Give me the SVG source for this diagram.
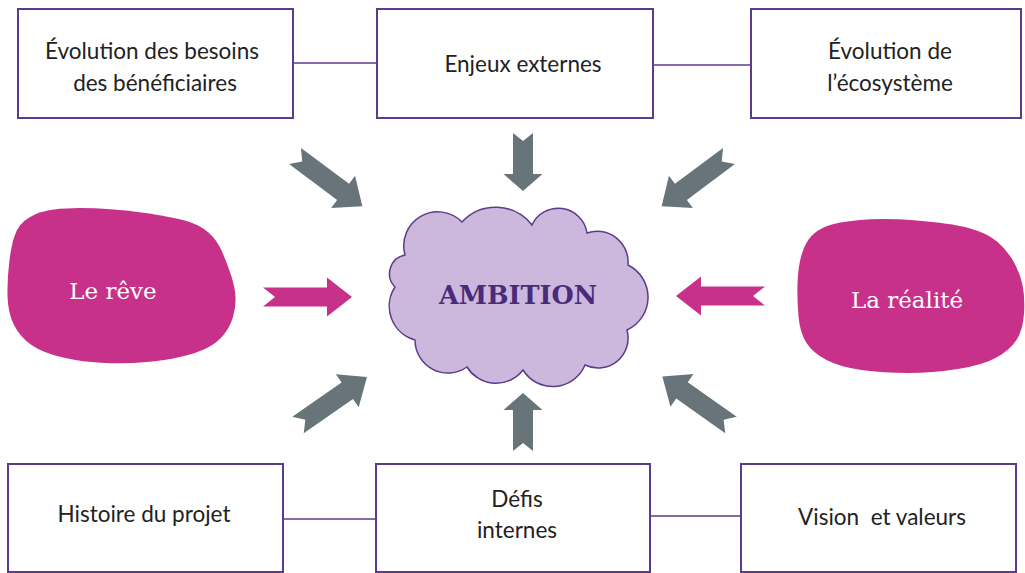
<svg xmlns="http://www.w3.org/2000/svg" width="1025" height="573" viewBox="0 0 1025 573">
<style>
.box{fill:#fff;stroke:#5b3b8c;stroke-width:2}
.lbl{font-family:Lato,"Noto Sans","Liberation Sans",sans-serif;font-size:22.5px;fill:#222;text-anchor:middle;white-space:pre}
.conn{stroke:#5b3b8c;stroke-width:1.6;fill:none}
.grey{fill:#67757a}
.pink{fill:#c8318a}
.blobtxt{font-family:"DejaVu Serif","Liberation Serif",serif;font-size:23px;fill:#fff;text-anchor:middle}
</style>
<defs>
<path id="arrV" d="M0,-10 L41,-10 L41,-19.5 L58,0 L41,19.5 L41,10 L0,10 L8,0 Z"/>
<path id="arrD" d="M0,-10 L60,-10 L60,-20 L84,0 L60,20 L60,10 L0,10 L9,0 Z"/>
<path id="arrP" d="M0,-9.5 L64,-9.5 L64,-19.5 L89,0 L64,19.5 L64,9.5 L0,9.5 L12,0 Z"/>
</defs>
<g id="connectors">
<line class="conn" x1="293" y1="63" x2="377" y2="63"/>
<line class="conn" x1="653" y1="65" x2="751" y2="65"/>
<line class="conn" x1="283" y1="519" x2="376" y2="519"/>
<line class="conn" x1="650" y1="516" x2="741" y2="516"/>
<use href="#arrV" class="grey" transform="translate(523,133) rotate(90)"/>
<use href="#arrV" class="grey" transform="translate(523,451) rotate(-90)"/>
<use href="#arrD" class="grey" transform="translate(295,156) rotate(36.7)"/>
<use href="#arrD" class="grey" transform="translate(729,156) rotate(143.3)"/>
<use href="#arrD" class="grey" transform="translate(298,425) rotate(-34.8)"/>
<use href="#arrD" class="grey" transform="translate(731,425) rotate(-144.8)"/>
<use href="#arrP" class="pink" transform="translate(263,297)"/>
<use href="#arrP" class="pink" transform="translate(765,296) rotate(180)"/>
</g>
<g id="n-besoins">
<rect class="box" x="18" y="9" width="275" height="109"/>
<text class="lbl" x="152" y="59">Évolution des besoins</text>
<text class="lbl" x="155" y="91">des bénéficiaires</text>
</g>
<g id="n-enjeux">
<rect class="box" x="377" y="9" width="276" height="109"/>
<text class="lbl" x="523" y="72">Enjeux externes</text>
</g>
<g id="n-ecosysteme">
<rect class="box" x="751" y="9" width="270" height="109"/>
<text class="lbl" x="890" y="59">Évolution de</text>
<text class="lbl" x="890" y="91">l’écosystème</text>
</g>
<g id="n-histoire">
<rect class="box" x="8" y="464" width="275" height="108"/>
<text class="lbl" x="144" y="522">Histoire du projet</text>
</g>
<g id="n-defis">
<rect class="box" x="376" y="464" width="274" height="108"/>
<text class="lbl" x="517" y="507">Défis</text>
<text class="lbl" x="517" y="538">internes</text>
</g>
<g id="n-vision">
<rect class="box" x="741" y="464" width="275" height="108"/>
<text class="lbl" x="882" y="525">Vision  et valeurs</text>
</g>
<g id="n-reve">
<path class="pink" d="M80,208 Q110,208 141.5,212.5 Q173,217 186.5,221 Q200,225 208.5,232.5 Q217,240 222,251.5 Q227,263 231,275 Q235,287 235.5,297 Q236,307 233,317 Q230,327 223.5,335 Q217,343 207,348 Q197,353 182,356.5 Q167,360 147,362 Q127,364 105,363 Q83,362 63,357.5 Q43,353 31.5,345 Q20,337 14,325 Q8,313 7.5,296.5 Q7,280 9.5,260 Q12,240 17,230 Q22,220 36,214 Q50,208 80,208 Z"/>
<text class="blobtxt" x="113" y="299">Le rêve</text>
</g>
<g id="n-realite">
<path class="pink" d="M860,220 Q883,218 916.5,220.5 Q950,223 968.5,228 Q987,233 997,241.5 Q1007,250 1013.5,261.5 Q1020,273 1022.5,285 Q1025,297 1024,313.5 Q1023,330 1016.5,340 Q1010,350 996.5,357.5 Q983,365 958,369 Q933,373 908,373 Q883,373 861.5,370 Q840,367 826.5,360 Q813,353 806.5,343 Q800,333 798.5,316.5 Q797,300 797.5,283.5 Q798,267 801.5,255 Q805,243 811,236.5 Q817,230 827,226 Q837,222 860,220 Z"/>
<text class="blobtxt" x="907" y="308">La réalité</text>
</g>
<g id="n-ambition">
<path fill="#cbb8dc" stroke="#5b3b8c" stroke-width="1.5" d="M405,255 A34,34 0 0 1 462,222 A46,46 0 0 1 532,225 A29,29 0 0 1 587,233 A31,31 0 0 1 628,265 A36,36 0 0 1 627,330 A30,30 0 0 1 585,365 A35,35 0 0 1 523,370 A34,34 0 0 1 467,367 A33,33 0 0 1 415,340 A35,35 0 0 1 395,287 A19,19 0 0 1 405,255 Z"/>
<text x="518" y="304" font-family="'DejaVu Serif','Liberation Serif',serif" font-weight="bold" font-size="25.5" fill="#4a2a7a" text-anchor="middle">AMBITION</text>
</g>
</svg>
